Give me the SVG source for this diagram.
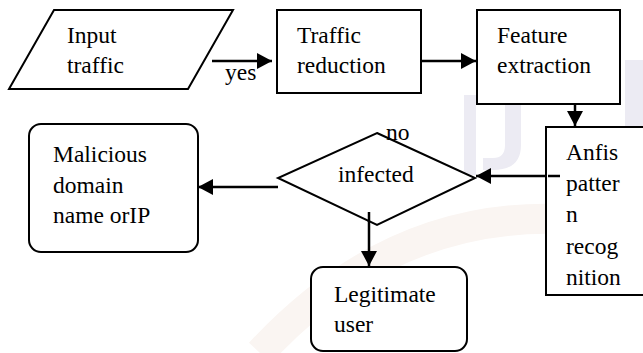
<svg xmlns="http://www.w3.org/2000/svg" width="643" height="353" viewBox="0 0 643 353">
<style>
.n{fill:#fff;stroke:#000;stroke-width:2}
.c{stroke:#000;stroke-width:2.5;fill:none;marker-end:url(#ah)}
.wm{fill:#ecebf3}
.t{font-family:'Liberation Serif','Times New Roman',serif;font-size:23.5px;fill:#000}
</style>
<defs>
<marker id="ah" markerUnits="userSpaceOnUse" markerWidth="16" markerHeight="18" refX="15" refY="9" orient="auto">
<path d="M0,1 L15,9 L0,17 Z" fill="#000"/>
</marker>
</defs>
<rect width="643" height="353" fill="#fff"/>
<g id="watermark">
<rect class="wm" x="464" y="95" width="12" height="80"/>
<path class="wm" d="M505,100 h16 v45 q0,25 -28,25 h-10 v-12 h10 q12,0 12,-13 z"/>
<rect class="wm" x="625" y="60" width="18" height="150"/>
<path d="M260,353 Q420,180 643,230" fill="none" stroke="#faf5f2" stroke-width="30"/>
</g>
<g id="connectors">
<path class="c" d="M212,61 H272"/>
<path class="c" d="M421,61 H476"/>
<path class="c" d="M575,104 V126"/>
<path class="c" d="M560,176 H476"/>
<path class="c" d="M278,187 H198"/>
<path class="c" d="M369,212 V266"/>
</g>
<g id="input">
<polygon class="n" points="54,10 233,10 188,89 9,89"/>
<text class="t" x="67" y="43">Input</text>
<text class="t" x="67" y="73">traffic</text>
</g>
<text id="yes" class="t" x="225" y="80">yes</text>
<g id="traffic">
<rect class="n" x="277" y="10" width="144" height="83"/>
<text class="t" x="297" y="43">Traffic</text>
<text class="t" x="297" y="73">reduction</text>
</g>
<g id="feature">
<rect class="n" x="477" y="10" width="143" height="94"/>
<text class="t" x="497" y="43">Feature</text>
<text class="t" x="497" y="73">extraction</text>
</g>
<g id="anfis">
<rect class="n" x="546" y="127" width="100" height="168"/>
<path d="M560,176 H548" stroke="#000" stroke-width="2.5"/>
<text class="t" x="566" y="160">Anfis</text>
<text class="t" x="566" y="191">patter</text>
<text class="t" x="566" y="222">n</text>
<text class="t" x="566" y="254">recog</text>
<text class="t" x="566" y="285">nition</text>
</g>
<g id="infected">
<polygon class="n" points="377,133 475,178 377,225 278,178"/>
<path d="M369,212 V222" stroke="#000" stroke-width="2.5"/>
<text class="t" x="338" y="182">infected</text>
<text class="t" x="386" y="140">no</text>
</g>
<g id="malicious">
<rect class="n" x="29" y="124" width="169" height="128" rx="12"/>
<text class="t" x="53" y="162">Malicious</text>
<text class="t" x="53" y="193">domain</text>
<text class="t" x="53" y="223">name orIP</text>
</g>
<g id="legitimate">
<rect class="n" x="311" y="267" width="156" height="84" rx="12"/>
<text class="t" x="334" y="302">Legitimate</text>
<text class="t" x="334" y="332">user</text>
</g>
</svg>
